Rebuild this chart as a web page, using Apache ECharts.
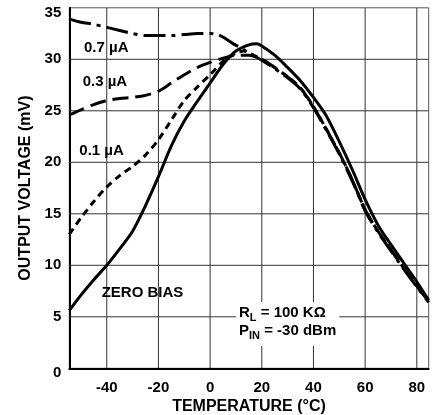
<!DOCTYPE html>
<html><head><meta charset="utf-8">
<script src="https://cdn.jsdelivr.net/npm/echarts@6/dist/echarts.min.js"></script>
<style>html,body{margin:0;padding:0;background:#fff}#c{width:432px;height:415px}</style>
</head><body><div id="c"></div>
<script>
// Axis ticks
const xTickLabels = [-40, -20, 0, 20, 40, 60, 80];
const yTickLabels = [0, 5, 10, 15, 20, 25, 30, 35];

// ZERO BIAS (solid)
const zeroBiasTemp = [-54.5,-50,-45,-40,-35,-30,-25,-20,-15,-10,-5,0,5,10,15,18,20,25,30,35,40,45,50,55,60,65,70,75,80,84.6];
const zeroBiasMv   = [5.6,7.1,8.6,10.0,11.6,13.3,15.8,18.6,21.6,24.0,25.9,27.7,29.5,30.8,31.4,31.5,31.3,30.4,29.2,27.9,26.3,24.5,22.0,19.3,16.4,13.9,12.0,10.2,8.4,6.6];

// 0.1 uA (short dash)
const bias01Temp = [-54.5,-50,-45,-40,-35,-30,-25,-20,-15,-10,-5,0,5,10,13,16,20,25,30,35,40,45,50,55,60,65,70,75,80,84.6];
const bias01Mv   = [13.0,14.6,16.2,17.6,18.7,19.6,20.7,22.2,24.1,26.0,27.3,28.5,29.8,30.6,30.8,30.5,30.0,29.2,28.3,27.2,25.4,23.2,20.9,18.3,15.4,13.3,11.5,9.7,8.0,6.5];

// 0.3 uA (long dash)
const bias03Temp = [-54.5,-50,-45,-40,-35,-30,-25,-20,-15,-10,-5,0,5,10,15,20,25,30,35,40,45,50,55,60,65,70,75,80,84.6];
const bias03Mv   = [24.6,25.1,25.6,26.0,26.2,26.3,26.5,26.9,27.7,28.5,29.2,29.7,30.1,30.4,30.4,30.0,29.2,28.3,27.2,25.4,23.2,20.9,18.3,15.4,13.3,11.5,9.7,8.0,6.5];

// 0.7 uA (dash-dot)
const bias07Temp = [-54.5,-50,-45,-40,-35,-30,-25,-20,-15,-10,-5,0,3,6,9,12,15,18,20,25,30,35,40,45,50,55,60,65,70,75,80,84.6];
const bias07Mv   = [33.9,33.6,33.4,33.1,32.8,32.5,32.3,32.3,32.3,32.4,32.5,32.5,32.4,32.0,31.5,31.1,30.6,30.2,29.9,29.1,28.2,27.1,25.3,23.1,20.8,18.2,15.3,13.2,11.4,9.6,7.9,6.4];

const X_MIN = -54.5, X_MAX = 84.6, Y_MIN = 0, Y_MAX = 35;
const pair = (t, v) => t.map((x, i) => [x, v[i]]);
const FONT = "'Liberation Sans', Arial, sans-serif";

const chart = echarts.init(document.getElementById('c'), null, {renderer: 'canvas'});
function line(name, t, v, type, z) {
  return {
    name, type: 'line', data: pair(t, v), showSymbol: false, smooth: 0.3, z,
    lineStyle: {color: '#000', width: 3, type: type, cap: 'butt'}, silent: true, animation: false
  };
}
function gridSeries() {
  const out = [];
  const st = {color: '#333', width: 1, type: 'solid'};
  xTickLabels.forEach(v => out.push({type: 'line', data: [[v, Y_MIN], [v, Y_MAX]], showSymbol: false,
    silent: true, z: 1, lineStyle: st, animation: false}));
  yTickLabels.filter(v => v > Y_MIN && v < Y_MAX).forEach(v => out.push({type: 'line',
    data: [[X_MIN, v], [X_MAX, v]], showSymbol: false, silent: true, z: 1, lineStyle: st, animation: false}));
  return out;
}
const tickFont = {fontFamily: FONT, fontWeight: 'bold', fontSize: 15, color: '#000'};
chart.setOption({
  animation: false,
  grid: {left: 69.3, right: 3.3, top: 7.8, bottom: 46.7, containLabel: false, outerBoundsMode: 'none',
         show: true, borderColor: '#555', borderWidth: 1, backgroundColor: 'transparent'},
  xAxis: {
    type: 'value', min: X_MIN, max: X_MAX, splitNumber: 7, minInterval: 20, maxInterval: 20,
    name: 'TEMPERATURE (°C)', nameLocation: 'middle', nameGap: 30, nameMoveOverlap: false,
    nameTextStyle: {fontFamily: FONT, fontWeight: 'bold', fontSize: 16, color: '#000'},
    axisLine: {show: true, onZero: false, lineStyle: {color: '#000', width: 2}},
    axisTick: {show: false},
    axisLabel: Object.assign({
      margin: 12,
      formatter: v => xTickLabels.some(t => Math.abs(t - v) < 1e-6) ? String(v) : ''
    }, tickFont),
    splitLine: {show: false}
  },
  yAxis: {
    type: 'value', min: Y_MIN, max: Y_MAX, interval: 5,
    name: 'OUTPUT VOLTAGE (mV)', nameLocation: 'middle', nameGap: 36, nameMoveOverlap: false,
    nameTextStyle: {fontFamily: FONT, fontWeight: 'bold', fontSize: 16, color: '#000'},
    axisLine: {show: true, onZero: false, lineStyle: {color: '#000', width: 2}},
    axisTick: {show: false},
    axisLabel: Object.assign({
      margin: 8, verticalAlign: 'middle',
      formatter: v => !yTickLabels.includes(v) ? '' :
        (v === Y_MAX || v === Y_MIN) ? '{d|' + v + '}' : String(v),
      rich: {d: Object.assign({padding: [10, 0, 0, 0]}, tickFont)}
    }, tickFont),
    splitLine: {show: false}
  },
  series: gridSeries().concat([
    line('0.7 µA', bias07Temp, bias07Mv, [22, 6, 4, 6], 2),
    line('0.3 µA', bias03Temp, bias03Mv, [16, 7], 3),
    line('0.1 µA', bias01Temp, bias01Mv, [7, 5], 4),
    line('ZERO BIAS', zeroBiasTemp, zeroBiasMv, 'solid', 5)
  ]),
  graphic: [
    {type: 'text', x: 84, y: 47.5, z: 100, style: {text: '0.7 µA', font: 'bold 15px ' + FONT, fill: '#000', verticalAlign: 'middle'}},
    {type: 'text', x: 82.7, y: 81.7, z: 100, style: {text: '0.3 µA', font: 'bold 15px ' + FONT, fill: '#000', verticalAlign: 'middle'}},
    {type: 'text', x: 79.3, y: 151.3, z: 100, style: {text: '0.1 µA', font: 'bold 15px ' + FONT, fill: '#000', verticalAlign: 'middle'}},
    {type: 'text', x: 101.7, y: 292.5, z: 100, style: {text: 'ZERO BIAS', font: 'bold 15px ' + FONT, fill: '#000', verticalAlign: 'middle'}},
    {type: 'text', x: 236, y: 302, z: 100, style: {
      text: '{n|R}{s|L}{n| = 100 KΩ}\n{n|P}{s|IN}{n| = -30 dBm}',
      font: 'bold 15px ' + FONT, fill: '#000',
      backgroundColor: '#fff', padding: [2, 3, 6, 3],
      rich: {
        n: {font: 'bold 15px ' + FONT, fill: '#000', lineHeight: 18, verticalAlign: 'middle', height: 18},
        s: {font: 'bold 11px ' + FONT, fill: '#000', lineHeight: 18, verticalAlign: 'middle', height: 18, padding: [9, 0, 0, 0]}
      }
    }}
  ]
});
</script></body></html>
